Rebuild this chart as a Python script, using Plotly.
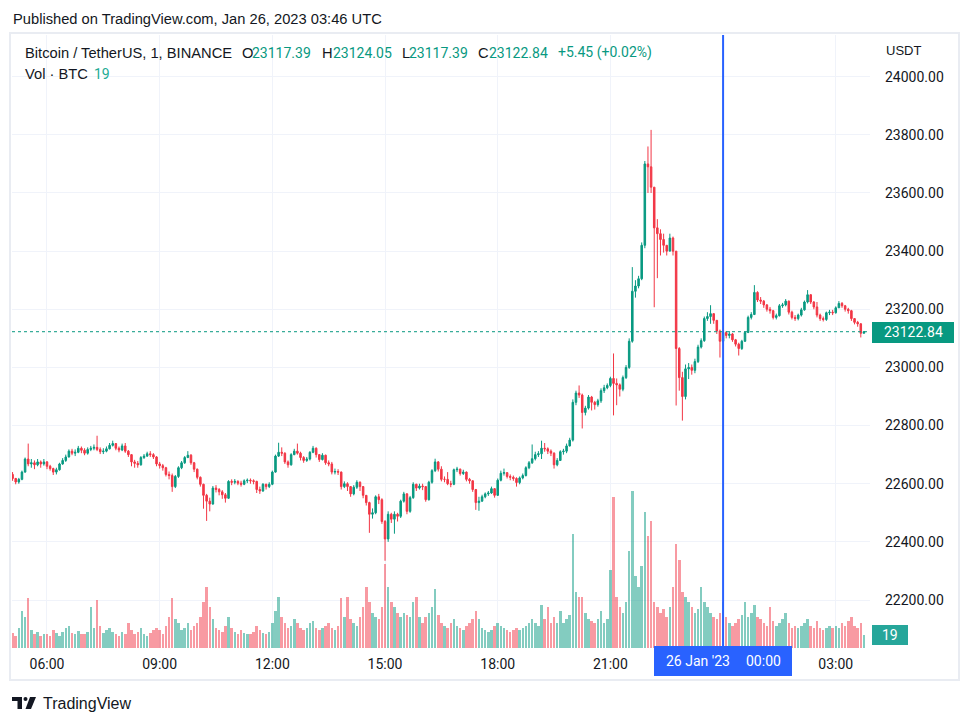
import plotly.graph_objects as go
import pandas as pd

# ---------------- data (5-minute bars) ----------------
first_open = 22632.0
closes = [
    22618, 22606, 22615, 22640, 22685, 22668, 22672, 22665, 22675, 22668, 22675,
    22660, 22652, 22640, 22648, 22668, 22680, 22692, 22712, 22705, 22708, 22722, 22715,
    22705, 22718, 22722, 22725, 22718, 22710, 22712, 22720, 22732, 22738, 22722, 22716,
    22730, 22712, 22700, 22675, 22670, 22665, 22690, 22695, 22703, 22700, 22692, 22668,
    22662, 22655, 22632, 22628, 22590, 22625, 22655, 22672, 22690, 22698, 22672, 22650,
    22622, 22598, 22560, 22540, 22530, 22585, 22580, 22572, 22562, 22550, 22608, 22605,
    22608, 22602, 22598, 22610, 22612, 22610, 22608, 22580, 22575, 22598, 22590, 22598,
    22640, 22695, 22708, 22705, 22675, 22665, 22700, 22712, 22705, 22690, 22680, 22685,
    22708, 22722, 22700, 22683, 22698, 22672, 22668, 22640, 22642, 22640, 22590, 22600,
    22590, 22565, 22588, 22605, 22590, 22560, 22535, 22495, 22500, 22555, 22545, 22470,
    22410, 22495, 22478, 22495, 22488, 22540, 22565, 22505, 22552, 22598, 22585, 22592,
    22590, 22545, 22605, 22645, 22675, 22650, 22615, 22615, 22600, 22598, 22648, 22650,
    22635, 22640, 22615, 22610, 22580, 22535, 22540, 22555, 22565, 22568, 22583, 22560,
    22612, 22636, 22638, 22625, 22622, 22618, 22604, 22620, 22628, 22655, 22672, 22686,
    22700, 22703, 22722, 22720, 22712, 22705, 22665, 22680, 22710, 22712, 22730, 22750,
    22880, 22912, 22905, 22845, 22860, 22898, 22880, 22872, 22885, 22920, 22930, 22938,
    22962, 22945, 22940, 22925, 22965, 23000, 23090, 23262, 23280, 23305, 23420, 23700,
    23690, 23620, 23480, 23460, 23440, 23420, 23400, 23445, 23400, 23065, 22965, 22900,
    22995, 23000, 22990, 23020, 23070, 23092, 23168, 23175, 23185, 23162, 23125, 23090,
    23120, 23110, 23115, 23095, 23080, 23065, 23090, 23120, 23172, 23182, 23258, 23232,
    23228, 23215, 23200, 23195, 23172, 23178, 23212, 23215, 23228, 23190, 23172, 23168,
    23180, 23198, 23225, 23250, 23225, 23208, 23180, 23168, 23165, 23188, 23190, 23188,
    23205, 23220, 23212, 23200, 23195, 23168, 23155, 23150, 23117.39, 23122.84,
]
highs = [
    22640, 22620, 22620, 22645, 22690, 22738, 22685, 22680, 22685, 22680, 22685,
    22678, 22665, 22655, 22655, 22672, 22688, 22700, 22718, 22720, 22718, 22730, 22728,
    22722, 22725, 22730, 22735, 22765, 22725, 22722, 22728, 22740, 22748, 22740, 22728,
    22738, 22740, 22716, 22702, 22682, 22678, 22695, 22702, 22710, 22712, 22705, 22695,
    22675, 22668, 22658, 22642, 22635, 22630, 22660, 22678, 22695, 22712, 22702, 22675,
    22652, 22625, 22600, 22565, 22552, 22592, 22595, 22585, 22578, 22568, 22612, 22615,
    22616, 22612, 22610, 22615, 22618, 22618, 22615, 22610, 22590, 22602, 22600, 22605,
    22645, 22700, 22741, 22725, 22708, 22680, 22705, 22720, 22738, 22710, 22695, 22692,
    22712, 22730, 22725, 22702, 22705, 22700, 22680, 22675, 22652, 22650, 22642, 22608,
    22605, 22592, 22595, 22612, 22608, 22592, 22560, 22538, 22515, 22560, 22565, 22550,
    22475, 22505, 22500, 22505, 22500, 22545, 22572, 22568, 22558, 22605, 22600, 22600,
    22600, 22592, 22610, 22650, 22686, 22678, 22660, 22625, 22640, 22610, 22652, 22658,
    22652, 22648, 22642, 22620, 22612, 22582, 22555, 22562, 22570, 22575, 22590, 22585,
    22618, 22645, 22652, 22640, 22632, 22628, 22622, 22625, 22635, 22660, 22678, 22735,
    22710, 22712, 22748, 22740, 22725, 22718, 22708, 22688, 22715, 22720, 22738, 22758,
    22890, 22920, 22938, 22910, 22868, 22905, 22902, 22885, 22892, 22928, 22940, 22945,
    22968, 23048, 22962, 22945, 22972, 23008, 23100, 23345, 23300, 23315, 23430, 23710,
    23760, 23817, 23620, 23510, 23475, 23460, 23420, 23460, 23450, 23400, 23070, 22985,
    23010, 23015, 23010, 23030, 23078, 23100, 23175, 23190, 23214, 23185, 23160, 23130,
    23128, 23125, 23125, 23118, 23098, 23085, 23095, 23125, 23178, 23190, 23283, 23262,
    23242, 23232, 23218, 23208, 23198, 23185, 23218, 23222, 23235, 23230, 23195, 23180,
    23185, 23205, 23230, 23266, 23252, 23228, 23225, 23185, 23175, 23192, 23198, 23198,
    23210, 23228, 23225, 23215, 23205, 23198, 23170, 23160, 23152, 23124.05,
]
lows = [
    22610, 22598, 22600, 22612, 22638, 22660, 22655, 22650, 22660, 22655, 22662,
    22650, 22645, 22630, 22632, 22645, 22665, 22675, 22690, 22698, 22695, 22705, 22705,
    22698, 22700, 22712, 22715, 22712, 22702, 22702, 22708, 22718, 22728, 22715, 22708,
    22712, 22706, 22692, 22660, 22655, 22655, 22662, 22685, 22692, 22692, 22685, 22660,
    22652, 22645, 22625, 22615, 22572, 22585, 22620, 22650, 22668, 22688, 22665, 22640,
    22615, 22590, 22514, 22472, 22505, 22528, 22570, 22560, 22548, 22535, 22548, 22595,
    22598, 22595, 22590, 22595, 22602, 22600, 22598, 22568, 22565, 22572, 22580, 22585,
    22595, 22638, 22692, 22695, 22668, 22655, 22662, 22698, 22700, 22680, 22672, 22675,
    22680, 22705, 22690, 22675, 22680, 22665, 22660, 22632, 22632, 22630, 22580, 22585,
    22575, 22555, 22560, 22582, 22575, 22550, 22525, 22431, 22480, 22495, 22530, 22462,
    22335, 22400, 22465, 22428, 22470, 22482, 22535, 22495, 22500, 22548, 22575, 22580,
    22578, 22538, 22542, 22600, 22640, 22642, 22608, 22605, 22595, 22588, 22595, 22640,
    22628, 22630, 22608, 22600, 22572, 22510, 22507, 22538, 22550, 22558, 22565, 22552,
    22558, 22608, 22628, 22618, 22612, 22610, 22590, 22598, 22615, 22625, 22650, 22668,
    22680, 22692, 22685, 22710, 22702, 22695, 22652, 22660, 22678, 22700, 22705, 22728,
    22745, 22870, 22895, 22790, 22835, 22855, 22852, 22855, 22865, 22878, 22912, 22925,
    22932, 22835, 22870, 22900, 22918, 22960, 22995, 23085, 23240, 23272, 23300, 23410,
    23600, 23600, 23207, 23307, 23385, 23395, 23385, 23400, 23385, 22869, 22920, 22817,
    22890, 22960, 22975, 22980, 23015, 23065, 23088, 23160, 23150, 23150, 23115, 23034,
    23085, 23100, 23100, 23088, 23072, 23041, 23060, 23088, 23118, 23165, 23180, 23225,
    23218, 23205, 23192, 23185, 23165, 23165, 23175, 23205, 23210, 23182, 23165, 23160,
    23162, 23175, 23195, 23220, 23218, 23200, 23172, 23160, 23158, 23160, 23180, 23180,
    23185, 23205, 23205, 23192, 23185, 23160, 23148, 23140, 23103, 23117.39,
]
volumes = [
    22, 18, 30, 54, 45, 74, 27, 21, 24, 18, 21,
    21, 18, 27, 22, 18, 24, 30, 33, 22, 20, 25, 21,
    21, 24, 60, 30, 70, 33, 22, 27, 30, 24, 21, 18,
    24, 21, 37, 27, 21, 24, 30, 21, 18, 22, 27, 30,
    27, 21, 33, 45, 74, 42, 36, 27, 30, 37, 27, 33,
    36, 45, 67, 90, 60, 42, 30, 27, 24, 33, 45, 30,
    24, 21, 27, 22, 21, 20, 24, 33, 27, 22, 21, 24,
    37, 55, 75, 45, 36, 30, 33, 42, 36, 30, 27, 30,
    37, 40, 30, 27, 30, 33, 36, 30, 27, 33, 74, 45,
    75, 42, 37, 33, 45, 60, 90, 67, 52, 45, 42, 60,
    124, 90, 67, 60, 52, 45, 52, 48, 45, 67, 75, 45,
    37, 45, 52, 60, 87, 48, 37, 33, 30, 36, 42, 33,
    30, 27, 33, 37, 42, 54, 42, 30, 27, 24, 27, 33,
    36, 33, 30, 27, 24, 27, 30, 27, 30, 33, 36, 42,
    37, 33, 63, 42, 60, 37, 45, 36, 54, 37, 42, 48,
    168, 82, 75, 75, 52, 42, 39, 36, 42, 54, 36, 42,
    115, 222, 75, 60, 52, 67, 142, 231, 105, 90, 120, 200,
    165, 186, 67, 60, 52, 57, 45, 60, 90, 153, 129, 82,
    75, 67, 60, 52, 57, 90, 67, 60, 52, 45, 42, 52,
    67, 45, 37, 33, 36, 42, 48, 67, 45, 52, 63, 45,
    42, 36, 33, 60, 39, 33, 36, 42, 52, 36, 30, 33,
    30, 33, 36, 42, 33, 30, 40, 30, 27, 30, 33, 30,
    33, 30, 36, 33, 39, 45, 33, 30, 36, 19,
]
start_time = "2023-01-25 05:05"
tick_times = ["2023-01-25 06:00", "2023-01-25 09:00", "2023-01-25 12:00", "2023-01-25 15:00",
              "2023-01-25 18:00", "2023-01-25 21:00", "2023-01-26 00:00", "2023-01-26 03:00"]
tick_labels = ["06:00", "09:00", "12:00", "15:00", "18:00", "21:00", "", "03:00"]
last_price = 23122.84
last_volume = 19

# ---------------- derived ----------------
times = pd.date_range(start_time, periods=len(closes), freq="5min")
opens = [first_open] + closes[:-1]
highs = [max(h, o, c) for h, o, c in zip(highs, opens, closes)]
lows = [min(l, o, c) for l, o, c in zip(lows, opens, closes)]

UP, DOWN = "#089981", "#F23645"
VUP, VDOWN = "rgba(8,153,129,0.5)", "rgba(242,54,69,0.5)"
TXT = "#131722"
GRID = "#f0f3fa"
FONT = "Liberation Sans, Arial, sans-serif"
NUMFONT = "Roboto, Arial, sans-serif"
TS = 14.7

W, H = 972, 725
L, R, T, B = 12, 102, 35, 77
PW, PH = W - L - R, H - T - B


def px(x):
    return (x - L) / PW


def py(y):
    return (H - B - y) / PH


vol_colors = [VUP if c >= o else VDOWN for o, c in zip(opens, closes)]

fig = go.Figure()
fig.add_trace(go.Bar(
    x=times, y=volumes, marker=dict(color=vol_colors, line=dict(width=0)),
    width=5 * 60 * 1000 * 0.8, yaxis="y", hoverinfo="skip",
))
fig.add_trace(go.Candlestick(
    x=times, open=opens, high=highs, low=lows, close=closes, yaxis="y2",
    increasing=dict(line=dict(color=UP, width=1), fillcolor=UP),
    decreasing=dict(line=dict(color=DOWN, width=1), fillcolor=DOWN),
    whiskerwidth=0, hoverinfo="skip",
))

ann = []


def text(s, x, y, size=TS, color=TXT, xanchor="left", family=FONT):
    ann.append(dict(text=s, x=px(x), y=py(y), xref="paper", yref="paper",
                    showarrow=False, xanchor=xanchor, yanchor="middle",
                    font=dict(size=size, color=color, family=family)))


text("Published on TradingView.com, Jan 26, 2023 03:46 UTC", 11, 19)
text("Bitcoin / TetherUS, 1, BINANCE", 23, 53)
text("O", 240, 53)
text("23117.39", 250, 53, 14, UP, family=NUMFONT)
text("H", 320, 53)
text("23124.05", 331, 53, 14, UP, family=NUMFONT)
text("L", 400, 53)
text("23117.39", 407, 53, 14, UP, family=NUMFONT)
text("C", 476, 53)
text("23122.84", 487, 53, 14, UP, family=NUMFONT)
text("+5.45 (+0.02%)", 556, 53, 14, UP, family=NUMFONT)
text("Vol · BTC", 23, 74)
text(str(last_volume), 92, 74, 14, "#22ab94", family=NUMFONT)
text("USDT", 884, 50, 13)
text("TradingView", 41, 703, 16)
# price / volume labels on the scale
text(f"{last_price:.2f}", 913, 332, 14, "white", "center", NUMFONT)
text(str(last_volume), 890, 635, 14, "white", "center", NUMFONT)
# crosshair label
text("26 Jan '23", 698, 661, 14, "white", "center", NUMFONT)
text("00:00", 763, 661, 14, "white", "center", NUMFONT)

shapes = [
    # outer frame
    dict(type="rect", xref="paper", yref="paper", x0=px(10), x1=px(959), y0=py(33), y1=py(680),
         line=dict(color="#e9ecf2", width=2), layer="below"),
    # last price dotted line
    dict(type="line", xref="paper", yref="y2", x0=0, x1=1, y0=last_price, y1=last_price,
         line=dict(color=UP, width=1, dash="dot")),
    # crosshair
    dict(type="line", xref="x", yref="paper", x0=tick_times[6], x1=tick_times[6], y0=0, y1=1,
         line=dict(color="#2962FF", width=2)),
    dict(type="rect", xref="paper", yref="paper", x0=px(654), x1=px(792), y0=py(646), y1=py(676),
         fillcolor="#2962FF", line=dict(width=0)),
    # price label box
    dict(type="rect", xref="paper", yref="paper", x0=px(872), x1=px(954), y0=py(322), y1=py(343),
         fillcolor=UP, line=dict(width=0)),
    # volume label box
    dict(type="rect", xref="paper", yref="paper", x0=px(872), x1=px(908), y0=py(625), y1=py(645),
         fillcolor="#26a69a", line=dict(width=0)),
    # TradingView logo
    dict(type="rect", xref="paper", yref="paper", x0=px(12), x1=px(22), y0=py(697), y1=py(701),
         fillcolor=TXT, line=dict(width=0)),
    dict(type="rect", xref="paper", yref="paper", x0=px(17.5), x1=px(22), y0=py(697), y1=py(709),
         fillcolor=TXT, line=dict(width=0)),
    dict(type="circle", xref="paper", yref="paper", x0=px(23.5), x1=px(27.5), y0=py(697), y1=py(701),
         fillcolor=TXT, line=dict(width=0)),
    dict(type="path", xref="paper", yref="paper",
         path=f"M {px(30)},{py(697)} L {px(36)},{py(697)} L {px(31)},{py(709)} L {px(25.5)},{py(709)} Z",
         fillcolor=TXT, line=dict(width=0)),
]

fig.update_layout(
    width=W, height=H, autosize=False,
    margin=dict(l=L, r=R, t=T, b=B, pad=0),
    paper_bgcolor="white", plot_bgcolor="white",
    showlegend=False, hovermode=False,
    font=dict(family=NUMFONT, color=TXT, size=14),
    bargap=0,
    xaxis=dict(
        type="date", range=["2023-01-25 05:04:06", "2023-01-26 03:54:42"],
        tickmode="array", tickvals=tick_times, ticktext=tick_labels,
        showgrid=True, gridcolor=GRID, gridwidth=1, ticks="", showline=False, zeroline=False,
        tickfont=dict(size=14, color=TXT), rangeslider=dict(visible=False),
        ticklabelstandoff=6,
    ),
    yaxis=dict(range=[0, 900], visible=False, showgrid=False, fixedrange=True),
    yaxis2=dict(
        overlaying="y", side="right", anchor="x",
        range=[22034.9, 24143.4], tick0=0, dtick=200, tickformat=".2f",
        showgrid=True, gridcolor=GRID, gridwidth=1, ticks="", zeroline=False, showline=False,
        tickfont=dict(size=14, color=TXT), ticklabelstandoff=14,
    ),
    annotations=ann, shapes=shapes,
)

fig.write_html("out.html", config={"displayModeBar": False},
               post_script="document.body.style.margin='0';")
